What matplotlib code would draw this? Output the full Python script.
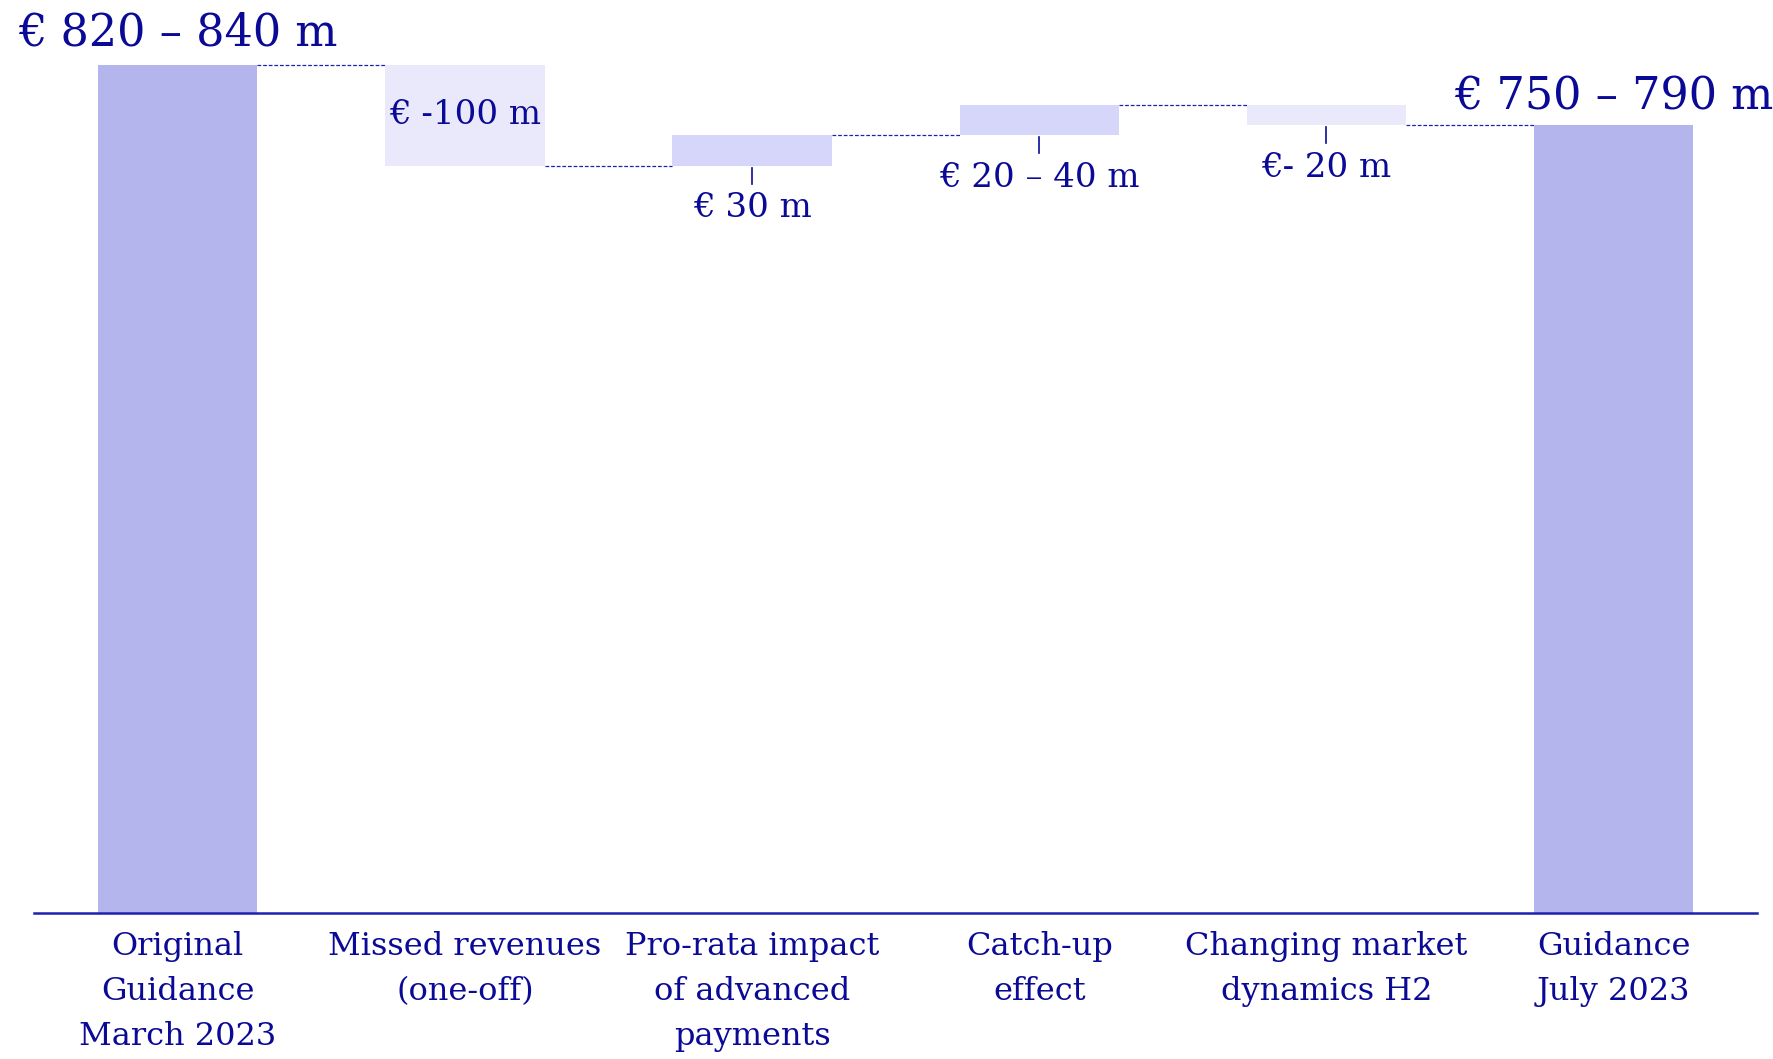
import numpy as np
import matplotlib
matplotlib.use("Agg")
import matplotlib.pyplot as plt

# ─── Data ─────────────────────────────────────────────────────────────────────
categories = [
    "Original\nGuidance\nMarch 2023",
    "Missed revenues\n(one-off)",
    "Pro-rata impact\nof advanced\npayments",
    "Catch-up\neffect",
    "Changing market\ndynamics H2",
    "Guidance\nJuly 2023",
]
start_total = 840
changes = [-100, 30, 30, -20]
end_total = 780

total_labels = ["€ 820 – 840 m", "€ 750 – 790 m"]
change_labels = ["€ -100 m", "€ 30 m", "€ 20 – 40 m", "€- 20 m"]

# ─── Style ────────────────────────────────────────────────────────────────────
TEXT = "#0a0a96"
LINE = "#2020b0"
TOTAL_COLOR = "#b5b5ee"
CHANGE_COLORS = ["#e9e9fb", "#d5d6fa", "#d5d6fa", "#e9e9fb"]
BAR_W = 0.555

plt.rcParams["font.family"] = ["DejaVu Serif"]

fig = plt.figure(figsize=(17.74, 10.59), dpi=100)
ax = fig.add_axes([0.0192, 0.1379, 0.9713, 0.8584])

x = np.arange(len(categories))

# running levels after each change
levels = np.concatenate([[start_total], start_total + np.cumsum(changes)])

# totals
ax.bar(x[0], start_total, width=BAR_W, color=TOTAL_COLOR, zorder=2)
ax.bar(x[-1], end_total, width=BAR_W, color=TOTAL_COLOR, zorder=2)

# floating changes
for i, d in enumerate(changes):
    lo = min(levels[i], levels[i + 1])
    ax.bar(x[i + 1], abs(d), bottom=lo, width=BAR_W,
           color=CHANGE_COLORS[i], zorder=2)

# dashed connectors
conn = list(levels[:-1]) + [end_total]
for i, y in enumerate(conn):
    ax.plot([x[i] + BAR_W / 2, x[i + 1] - BAR_W / 2], [y, y],
            linestyle=(0, (3, 1.5)), color=LINE, linewidth=0.9, zorder=1)

# total labels
ax.annotate(total_labels[0], (x[0], start_total), xytext=(0, 7),
            textcoords="offset points", ha="center", va="bottom",
            fontsize=32, color=TEXT)
ax.annotate(total_labels[1], (x[-1], end_total), xytext=(0, 5),
            textcoords="offset points", ha="center", va="bottom",
            fontsize=32, color=TEXT)

# change labels
ax.text(x[1], (levels[0] + levels[1]) / 2, change_labels[0],
        ha="center", va="center", fontsize=24.5, color=TEXT, zorder=3)
for i in range(1, len(changes)):
    lo = min(levels[i], levels[i + 1])
    ax.plot([x[i + 1], x[i + 1]], [lo - 2, lo - 18], color=TEXT,
            linewidth=1.2, zorder=3)
    ax.annotate(change_labels[i], (x[i + 1], lo - 18), xytext=(0, -6),
                textcoords="offset points", ha="center", va="top",
                fontsize=24.5, color=TEXT)

ax.set_xlim(-0.5, 5.5)
ax.set_ylim(0, 900)
ax.set_xticks(x)
ax.set_xticklabels(categories, fontsize=23, color=TEXT, linespacing=1.58)
ax.tick_params(axis="x", length=0, pad=13)
ax.set_yticks([])
for side in ["top", "right", "left"]:
    ax.spines[side].set_visible(False)
ax.spines["bottom"].set_color(LINE)
ax.spines["bottom"].set_linewidth(1.8)

fig.savefig("out.png", dpi=100)
